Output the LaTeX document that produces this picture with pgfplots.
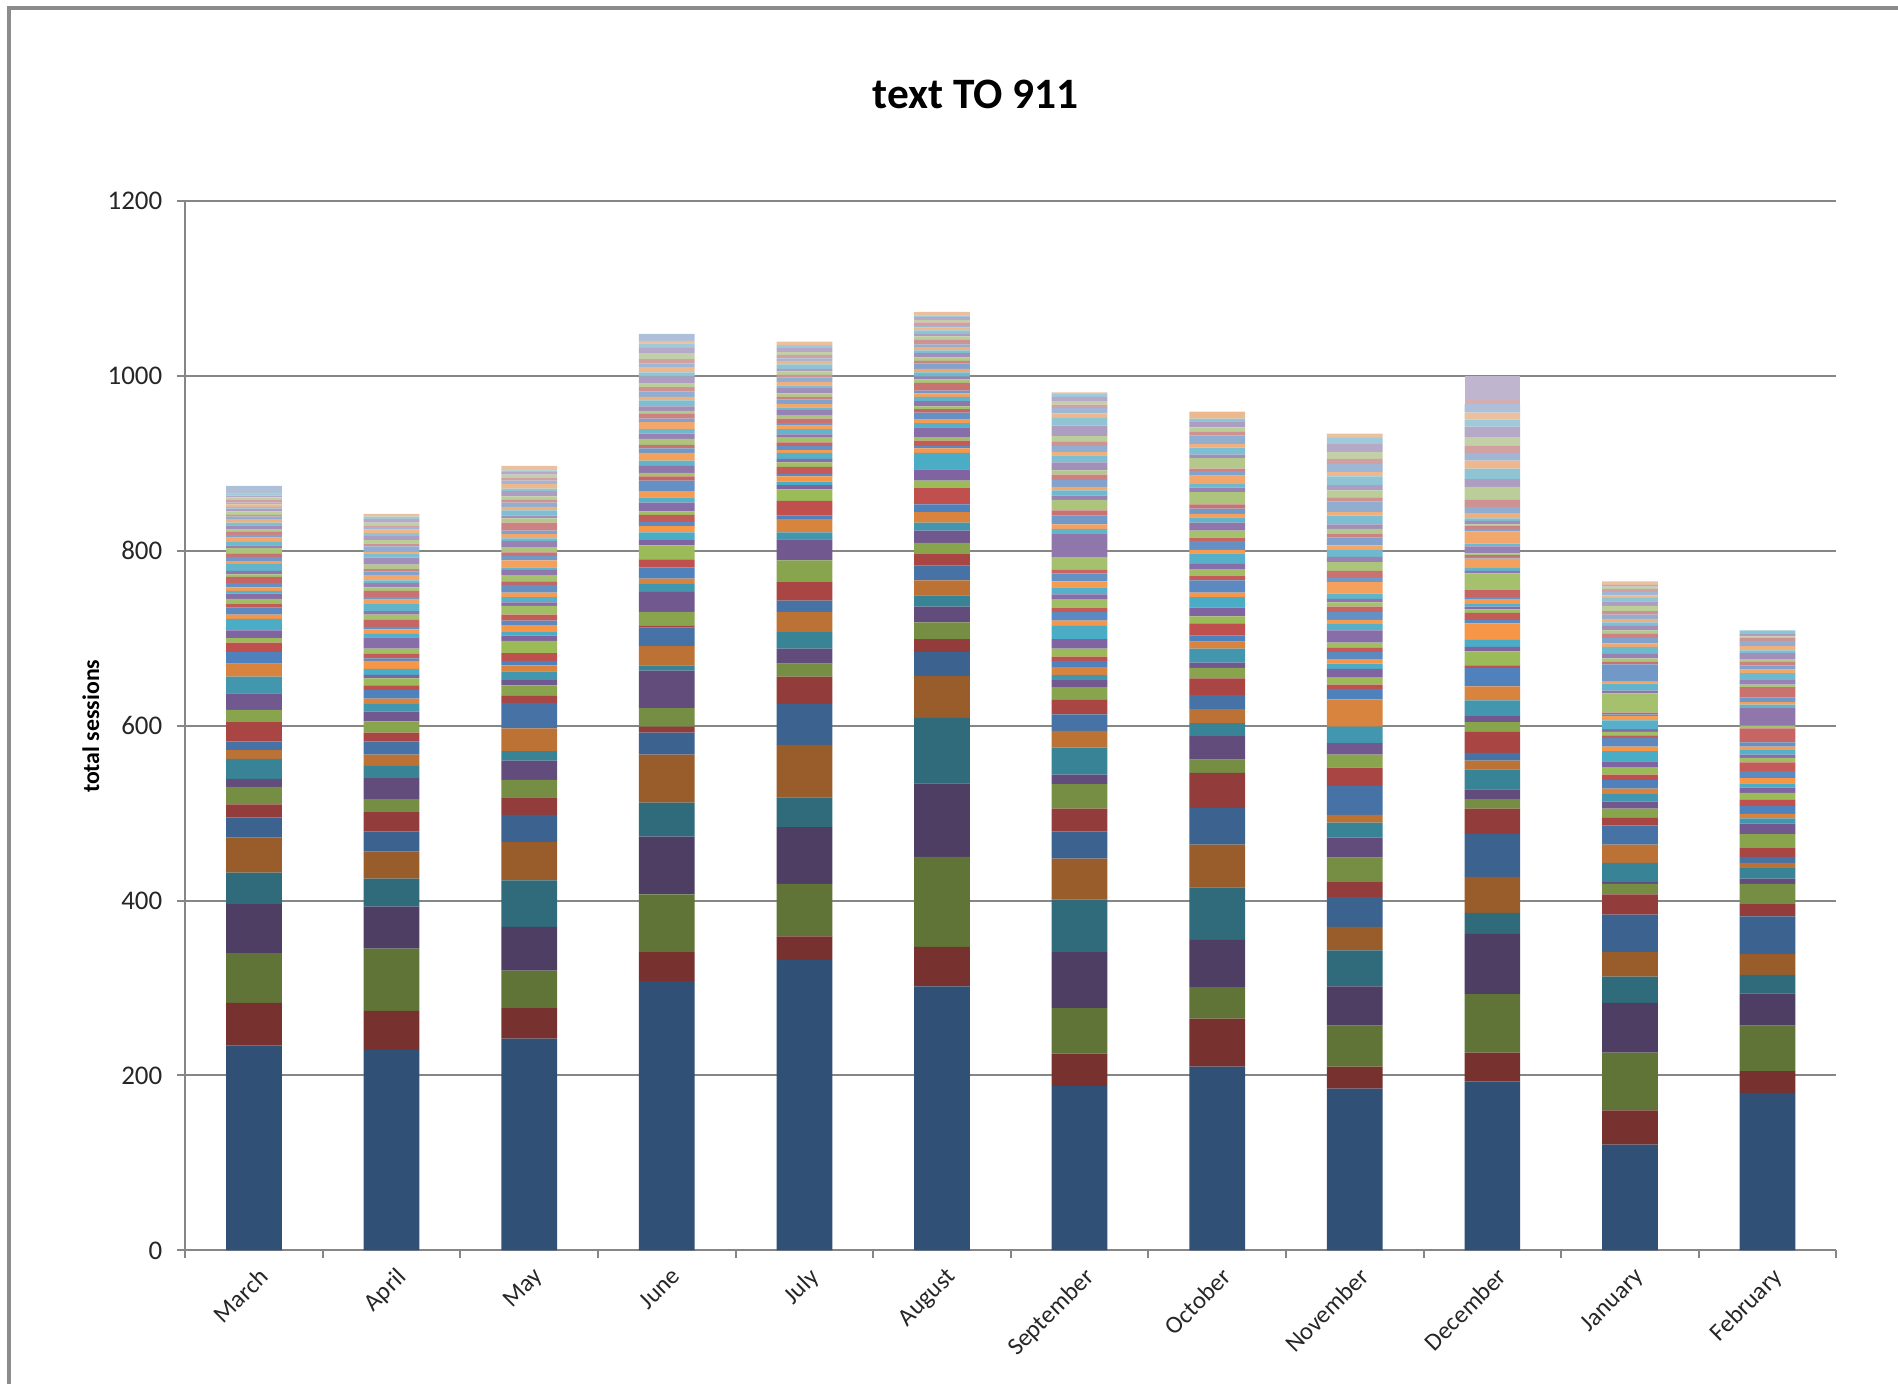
\documentclass[border=0pt]{standalone}
\usepackage{fontspec}
\setmainfont{Carlito}
\usepackage{pgfplots}
\usepackage{pgfplotstable}
\pgfplotsset{compat=1.18}
\definecolor{acc1}{HTML}{4F81BD}
\definecolor{acc2}{HTML}{C0504D}
\definecolor{acc3}{HTML}{9BBB59}
\definecolor{acc4}{HTML}{8064A2}
\definecolor{acc5}{HTML}{4BACC6}
\definecolor{acc6}{HTML}{F79646}
\definecolor{lgr}{RGB}{226,226,232}
\definecolor{axgray}{HTML}{868686}
\definecolor{bordergray}{HTML}{8C8C8C}
\foreach \g/\m/\t in {0/62/black,1/76/black,2/88/black,3/100/black,4/92/lgr,5/85/lgr,6/76/lgr,7/66/lgr,8/55/lgr,9/45/lgr,10/36/lgr}{%
  \foreach \h in {1,...,6}{%
    \pgfmathtruncatemacro{\idx}{\g*6+\h}%
    \xglobal\colorlet{c\idx}{acc\h!\m!\t}%
  }%
}
% rows: month index, then the stacked segments from the bottom up (66 series)
\pgfplotstableread[header=false]{
0 234 49 57 56 36 40 23 15 20 9 23 10 10 22 14 19 19 15 13 11 5 9 13 5 8 4 6 6 3 4 5 7 3 4 8 3 5 4 6 3 4 5 3 4 2 5 3 4 3 2 4 3 2 3 2 3 3 2 2 1 8 0 0 0 0 0
1 229 45 71 48 32 31 23 22 15 24 14 13 15 10 13 11 9 6 10 5 8 4 7 9 3 5 6 13 4 5 3 8 6 4 8 5 3 7 4 5 3 6 4 3 5 8 4 3 6 3 4 5 3 4 3 2 3 4 3 3 0 0 0 0 0 0
2 242 35 43 50 53 44 31 20 20 22 11 26 29 8 12 6 10 7 5 9 14 6 4 8 5 7 10 4 6 5 9 4 7 6 3 8 5 4 6 7 3 5 4 9 5 3 6 4 5 3 4 6 3 5 4 3 4 3 2 5 0 0 0 0 0 0
3 308 33 66 66 39 55 25 7 21 43 6 22 21 2 16 23 9 6 13 9 16 6 9 7 5 8 4 10 6 7 12 5 4 8 6 9 5 4 7 6 5 8 4 6 3 5 7 4 6 5 4 8 5 6 4 5 7 6 5 3 8 0 0 0 0 0
4 332 27 60 65 34 60 47 31 15 17 19 23 13 21 25 24 8 15 4 17 13 5 4 6 3 8 5 4 7 3 5 4 6 3 6 4 3 5 4 6 3 4 5 3 4 6 3 4 5 3 4 3 5 4 3 4 3 5 3 4 0 0 0 0 0 0
5 302 45 103 84 75 48 27 15 19 18 13 17 17 13 13 14 9 12 9 19 8 13 19 5 3 6 4 11 5 4 8 4 3 6 5 4 3 9 4 3 5 4 6 3 4 5 3 4 3 5 4 3 4 3 2 4 3 3 2 4 0 0 0 0 0 0
6 188 37 52 64 60 47 31 26 28 11 31 19 19 17 14 8 6 9 7 5 9 11 15 6 10 5 9 6 8 7 9 4 14 27 6 5 10 6 12 5 6 4 8 6 5 9 8 4 7 5 6 12 9 5 6 4 4 5 3 2 0 0 0 0 0 0
7 210 55 36 54 60 49 42 40 15 27 15 16 16 19 12 6 16 8 7 14 8 10 12 5 14 5 8 6 12 4 10 4 8 9 6 4 6 5 14 5 4 10 5 3 12 4 8 4 10 4 5 6 4 8 0 0 0 0 0 0 0 0 0 0 0 0
8 185 25 47 45 41 27 34 17 28 23 17 9 33 21 15 13 19 31 12 5 8 10 6 5 8 5 6 14 7 5 9 6 5 4 6 13 5 8 10 6 8 5 9 4 6 5 10 4 12 5 8 6 10 5 9 6 8 9 7 5 0 0 0 0 0 0
9 193 33 67 69 24 41 49 29 11 11 23 10 9 24 11 7 18 16 21 3 16 5 8 19 4 8 4 3 3 5 3 8 19 3 3 11 2 2 2 8 3 14 3 3 2 4 3 6 7 8 15 9 12 9 9 8 10 12 8 8 10 6 0 26 0 0
10 121 39 66 57 30 28 43 23 12 2 22 21 22 9 10 8 9 6 10 6 8 7 12 5 10 3 4 3 10 5 2 2 22 3 8 3 19 3 4 5 8 4 6 5 4 5 4 4 5 4 6 5 4 3 4 3 3 2 0 4 0 0 0 0 0 0
11 180 25 52 37 21 24 43 14 23 6 12 6 7 10 16 12 6 5 9 7 8 6 5 6 8 10 5 4 5 4 5 16 3 20 4 3 5 12 3 5 8 4 5 4 3 7 3 5 6 3 2 3 4 0 0 0 0 0 0 0 0 0 0 0 0 0
}\data
\begin{document}
\begin{tikzpicture}[x=0.15mm,y=0.15mm]
\useasboundingbox (0,0) rectangle (1568,1143);
\draw[bordergray, line width=0.4mm] (7.4,-10) -- (7.4,1136.4) -- (1580,1136.4);
\begin{axis}[
  at={(22.95mm,16.5mm)}, anchor=south west,
  width=204.6mm, height=130.05mm, scale only axis,
  ybar stacked, bar width=0.405,
  xmin=-0.5, xmax=11.5, ymin=0, ymax=1200,
  ytick={0,200,...,1200},
  xtick={0,...,11},
  xticklabels={March,April,May,June,July,August,September,October,November,December,January,February},
  minor xtick={-0.5,0.5,...,11.5},
  axis x line*=bottom, axis y line*=left,
  axis line style={-, draw=axgray, line width=0.25mm},
  ymajorgrids, grid style={draw=axgray, line width=0.25mm},
  tick align=outside,
  major tick length=1mm, minor tick length=1mm,
  major x tick style={draw=none},
  minor x tick style={draw=axgray, line width=0.25mm},
  major y tick style={draw=axgray, line width=0.25mm},
  /pgf/number format/assume math mode=true,
  /pgf/number format/1000 sep={},
  yticklabel style={font=\fontsize{9.5}{11}\selectfont, text=black!85, xshift=-0.6mm},
  xticklabel style={font=\fontsize{8.7}{10}\selectfont, text=black!85, rotate=45, anchor=north east, inner sep=1pt, yshift=-0.6mm},
  clip=false,
]
\pgfplotsinvokeforeach{1,...,66}{
  \addplot[fill=c#1, draw=none] table[x index=0, y index=#1] {\data};
}
\end{axis}
\node[font=\bfseries\fontsize{15.3}{18}\selectfont] at (806,1065) {text TO 911};
\node[rotate=90, font=\bfseries\fontsize{8.4}{10}\selectfont] at (75,543) {total sessions};
\end{tikzpicture}
\end{document}
